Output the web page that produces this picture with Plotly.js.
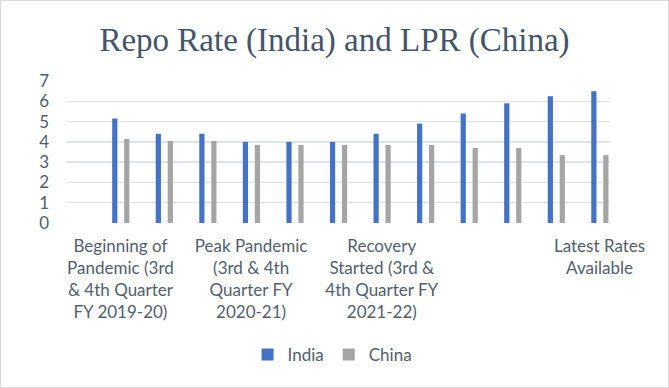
<!DOCTYPE html>
<html>
<head>
<meta charset="utf-8">
<script src="https://cdn.plot.ly/plotly-3.0.1.min.js"></script>
<style>
  html, body { margin: 0; padding: 0; background: #fff; }
  #chart { width: 667px; height: 386px; border: 1px solid #D9D9D9; }
</style>
</head>
<body>
<div id="chart"></div>
<script>
// Data
const categories = [
  "Beginning of Pandemic (3rd & 4th Quarter FY 2019-20)", "B2", "B3",
  "Peak Pandemic (3rd & 4th Quarter FY 2020-21)", "P2", "P3",
  "Recovery Started (3rd & 4th Quarter FY 2021-22)", "R2", "R3",
  "L1", "L2", "Latest Rates Available"
];
const tickLabels = [
  "Beginning of<br>Pandemic (3rd<br>& 4th Quarter<br>FY 2019-20)", "", "",
  "Peak Pandemic<br>(3rd & 4th<br>Quarter FY<br>2020-21)", "", "",
  "Recovery<br>Started (3rd &<br>4th Quarter FY<br>2021-22)", "", "",
  "", "", "Latest Rates<br>Available"
];
const india = [5.15, 4.4, 4.4, 4.0, 4.0, 4.0, 4.4, 4.9, 5.4, 5.9, 6.25, 6.5];
const china = [4.15, 4.05, 4.05, 3.85, 3.85, 3.85, 3.85, 3.85, 3.7, 3.7, 3.35, 3.35];

const idx = categories.map((_, i) => i);

const traces = [
  { type: 'bar', name: 'India', x: idx, y: india,
    width: 0.12, offset: -0.19,
    marker: { color: '#4472C4' }, hoverinfo: 'y' },
  { type: 'bar', name: 'China', x: idx, y: china,
    width: 0.12, offset: 0.085,
    marker: { color: '#A5A5A5' }, hoverinfo: 'y' }
];

const font = 'Lato, "Open Sans", "Liberation Sans", sans-serif';
const txt = '#525E6E';

const layout = {
  width: 667, height: 386,
  margin: { l: 65, r: 58, t: 80, b: 164 },
  paper_bgcolor: '#ffffff', plot_bgcolor: '#ffffff',
  title: { text: 'Repo Rate (India) and LPR (China)',
    font: { family: '"Liberation Serif", "Times New Roman", serif', size: 33, color: '#44546A' },
    x: 0.5, xref: 'container', y: 0.9, yref: 'container', yanchor: 'middle' },
  barmode: 'group',
  xaxis: { type: 'linear', range: [-1.25, 11.24], tickmode: 'array',
    tickvals: idx, ticktext: tickLabels, showgrid: false, zeroline: false,
    showline: false, ticks: '', tickangle: 0, ticklabelstandoff: 11,
    tickfont: { family: font, size: 17, color: txt } },
  yaxis: { range: [0, 7], dtick: 1, showgrid: true, gridcolor: '#DEE2E8', gridwidth: 1.5,
    zeroline: false, showline: false, ticks: '', ticklabelstandoff: 16,
    tickfont: { family: font, size: 17, color: txt } },
  showlegend: true,
  legend: { orientation: 'h', x: 0.49, xanchor: 'center', y: -0.93, yanchor: 'middle',
    font: { family: font, size: 17, color: txt }, itemwidth: 30 },
  hovermode: false
};

Plotly.newPlot('chart', traces, layout, { displayModeBar: false, staticPlot: true });
</script>
</body>
</html>
